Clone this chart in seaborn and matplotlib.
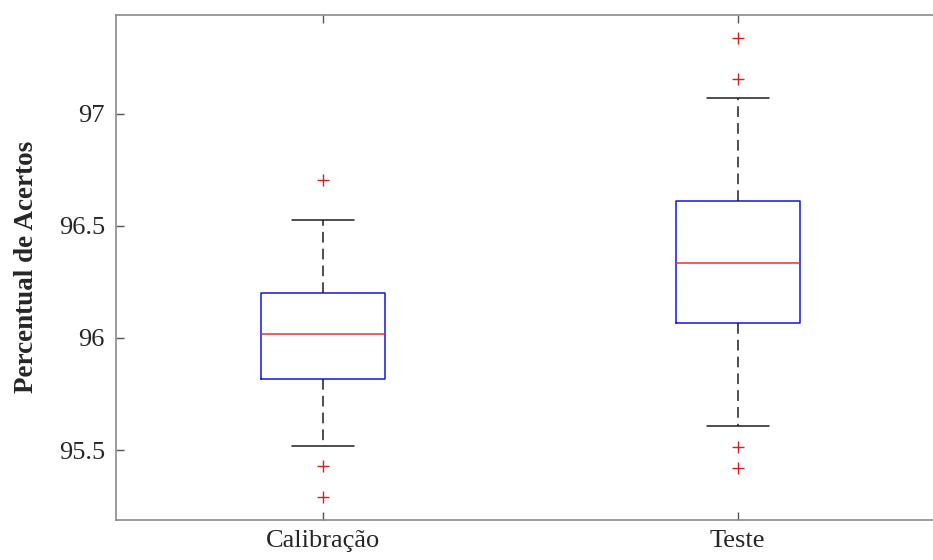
import matplotlib
matplotlib.use("Agg")
import matplotlib.pyplot as plt
import numpy as np
import pandas as pd
import seaborn as sns

# values (whiskers, quartiles, median, outliers)
categories = ["Calibração", "Teste"]
calibracao = [95.29, 95.43, 95.52, 95.815, 95.815, 96.02, 96.02, 96.02,
              96.20, 96.20, 96.20, 96.525, 96.705]
teste = [95.42, 95.515, 95.605, 96.065, 96.065, 96.335, 96.335, 96.335,
         96.61, 96.61, 97.07, 97.155, 97.34]
yticks = [95.5, 96, 96.5, 97]
ytick_labels = ["95.5", "96", "96.5", "97"]

df = pd.DataFrame({
    "grupo": [categories[0]] * len(calibracao) + [categories[1]] * len(teste),
    "valor": calibracao + teste,
})

sns.set_style("ticks")
plt.rcParams["font.family"] = ["Liberation Serif", "DejaVu Serif"]

fig = plt.figure(figsize=(9.33, 5.6), dpi=100)
ax = fig.add_axes([0.1243, 0.0714, 0.8885, 0.9023])

sns.boxplot(data=df, x="grupo", y="valor", order=categories, ax=ax,
            width=0.3, whis=0.92, fill=False, linewidth=1.0,
            boxprops=dict(color="#1414e6", linewidth=1.1),
            medianprops=dict(color="#e8302a", linewidth=1.1),
            whiskerprops=dict(color="#1e1e1e", linewidth=1.1,
                              linestyle=(0, (7, 4))),
            capprops=dict(color="#1e1e1e", linewidth=1.1),
            flierprops=dict(marker="+", markersize=9, markeredgewidth=1.0,
                            markeredgecolor="#d81e1e", color="#d81e1e"))

ax.set_xlim(-0.5, 1.5)
ax.set_ylim(95.1875, 97.443)
ax.set_yticks(yticks, ytick_labels)
ax.set_xlabel("")
ax.set_ylabel("Percentual de Acertos", fontsize=19.5, fontweight="bold",
              labelpad=14)

for side in ["left", "right", "top", "bottom"]:
    ax.spines[side].set_visible(True)
    ax.spines[side].set_color("#8a8a8a")
    ax.spines[side].set_linewidth(1.2)

ax.tick_params(axis="both", direction="in", length=6, width=1,
               color="#555555", labelsize=19, labelcolor="#262626",
               top=True, right=True)
ax.tick_params(axis="x", pad=7)
ax.tick_params(axis="y", pad=8)

plt.savefig("out.png", dpi=100)
